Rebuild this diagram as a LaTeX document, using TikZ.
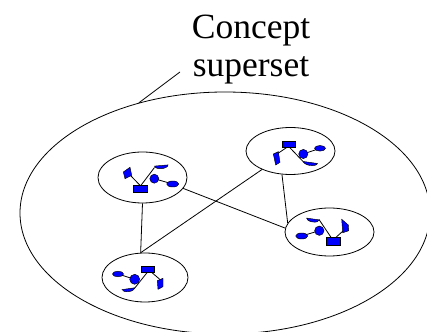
\documentclass[tikz,border=0pt]{standalone}
\usepackage{fontspec}
\setmainfont{Liberation Serif}
\usetikzlibrary{shapes.geometric}

\begin{document}
\begin{tikzpicture}[x=1pt, y=1pt, line width=0.8pt,
    concept/.style={ellipse, draw, inner sep=0pt},
    glyph/.style={fill=blue, draw=black, line width=0.45pt}]

      \useasboundingbox (0, 0) rectangle (427, 331);

      \node [concept, minimum width=410pt, minimum height=242pt] (superset) at (225, 118) {};
      \node [anchor=north, inner sep=0pt, align=center, font=\fontsize{35.5}{38}\selectfont]
        (label) at (251, 316) {Concept \\ superset};
      \coordinate (tip) at (180, 259);
      \draw (tip) -- (superset.128);

      \node [concept, minimum width=89pt, minimum height=51pt] (c1) at (142.5, 153.5) {};
      \node [concept, minimum width=89pt, minimum height=47pt] (c2) at (290.5, 180) {};
      \node [concept, minimum width=86pt, minimum height=49pt] (c3) at (145, 53.5) {};
      \node [concept, minimum width=89pt, minimum height=48pt] (c4) at (329.5, 99) {};

      \draw (c1.south) -- (c3.100);
      \draw (c3.100) -- (c2.213);
      \draw (c1.345) -- (c4.175);
      \draw (c2.250) -- (c4.168);

      \draw (140, 145.7) -- (130.5, 155.5);
      \draw (141, 145.7) -- (154.5, 163.5);
      \draw (154.3, 152.3) -- (172.7, 147);
      \draw [glyph] (123.3, 159) -- (130, 163.7) -- (131.7, 155.7) -- (125, 152.3) -- cycle;
      \draw [glyph] (133.3, 139) rectangle (147.3, 145.7);
      \draw [glyph] (154.3, 152.3) circle (4.5);
      \draw [glyph] (172.7, 147) ellipse [x radius=6, y radius=3];
      \draw [glyph, rotate around={5:(161.3, 165.5)}] (154.6, 165.5) -- (168, 165.5)
        arc [start angle=0, end angle=-180, x radius=6.7, y radius=3.2] -- cycle;

      \draw (287, 183.7) -- (277, 177);
      \draw (289.5, 183.7) -- (304, 168.5);
      \draw (303.3, 177) -- (320, 182.7);
      \draw [glyph] (273.3, 177) -- (278.3, 179.3) -- (280, 168.7) -- (275.7, 166) -- cycle;
      \draw [glyph] (282.3, 183.7) rectangle (295.7, 189.3);
      \draw [glyph] (303.3, 177) circle (4.6);
      \draw [glyph] (320, 182.7) ellipse [x radius=5.5, y radius=2.8];
      \draw [glyph, rotate around={-8:(310.5, 168.5)}] (303.5, 168.5) -- (317.5, 168.5)
        arc [start angle=0, end angle=-180, x radius=7, y radius=3] -- cycle;

      \draw (118, 57) -- (134.7, 51.7);
      \draw (147, 58.3) -- (134, 42);
      \draw (152, 58.3) -- (160, 51.5);
      \draw [glyph] (157.3, 50.3) -- (163, 52.7) -- (163, 44.3) -- (158, 41.7) -- cycle;
      \draw [glyph] (141.3, 58.3) rectangle (154.7, 65);
      \draw [glyph] (134.7, 51.7) circle (5);
      \draw [glyph] (118, 57) ellipse [x radius=5.5, y radius=2.8];
      \draw [glyph, rotate around={8:(128.3, 42.3)}] (122, 42.3) -- (134.7, 42.3)
        arc [start angle=0, end angle=-180, x radius=6.35, y radius=3] -- cycle;

      \draw (319, 111.5) -- (331, 93.7);
      \draw (319.3, 100.3) -- (301.7, 95);
      \draw (336, 93.7) -- (343, 100);
      \draw [glyph] (341.7, 111.7) -- (348.3, 106) -- (348.7, 100.3) -- (342.7, 98.3) -- cycle;
      \draw [glyph] (326, 86) rectangle (340, 93.7);
      \draw [glyph] (319.3, 100.3) circle (4.7);
      \draw [glyph] (301.7, 95) ellipse [x radius=6, y radius=3];
      \draw [glyph, rotate around={-8:(313, 112)}] (306.5, 112) -- (319.5, 112)
        arc [start angle=0, end angle=-180, x radius=6.5, y radius=3] -- cycle;

    \end{tikzpicture}
\end{document}
